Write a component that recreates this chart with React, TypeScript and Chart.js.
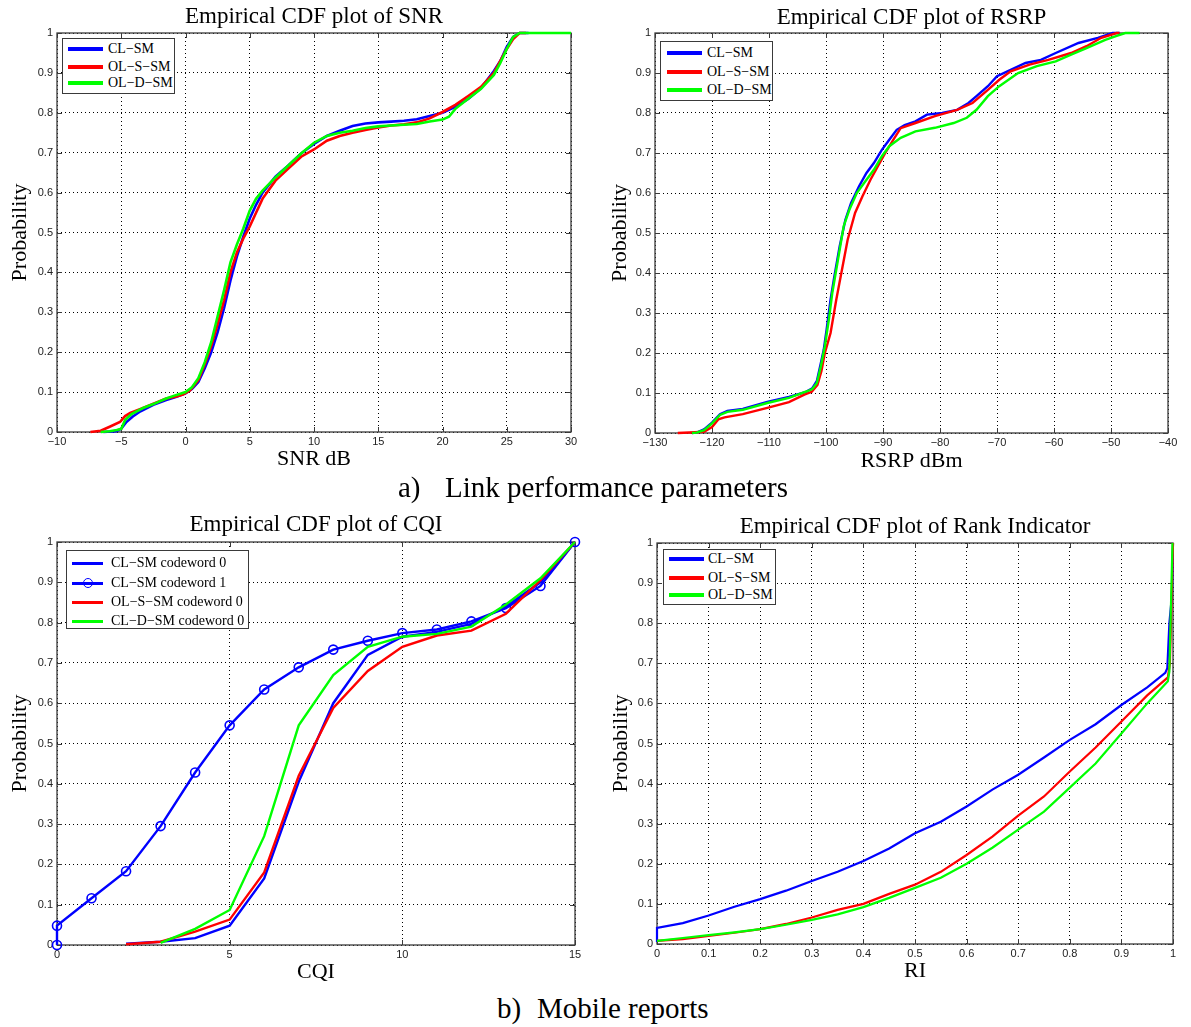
import React, { useEffect, useRef } from 'react';
import { Chart, registerables } from 'chart.js';

Chart.register(...registerables);

// ---------------- DATA ----------------
const seriesLabels = ['CL\u2212SM', 'OL\u2212S\u2212SM', 'OL\u2212D\u2212SM'];
const cqiLabels = ['CL\u2212SM codeword 0', 'CL\u2212SM codeword 1', 'OL\u2212S\u2212SM codeword 0', 'CL\u2212D\u2212SM codeword 0'];

// SNR (dB)
const snrClX = [-6.4, -5.4, -5.0, -4.6, -4.1, -3.5, -2.5, -1.5, -0.7, 0, 0.5, 1, 1.5, 2, 2.5, 3, 3.5, 4, 4.5, 5, 5.5, 6, 7, 8, 9, 10, 11, 12, 13, 14, 15, 16, 17, 18, 19, 20, 21, 22, 23, 24, 24.5, 25, 25.5, 26, 26.7];
const snrClY = [0, 0.002, 0.008, 0.025, 0.039, 0.052, 0.068, 0.08, 0.088, 0.097, 0.108, 0.125, 0.16, 0.2, 0.25, 0.31, 0.38, 0.44, 0.49, 0.535, 0.57, 0.6, 0.64, 0.668, 0.698, 0.722, 0.742, 0.755, 0.767, 0.773, 0.776, 0.778, 0.78, 0.784, 0.792, 0.8, 0.815, 0.835, 0.862, 0.905, 0.93, 0.965, 0.99, 1, 1];
const snrOlsX = [-7.4, -6.6, -5.9, -5.1, -4.7, -4.3, -3.5, -2.5, -1.5, -0.7, -0.2, 0.35, 1, 1.5, 2, 2.5, 3, 3.5, 4, 4.5, 5, 5.5, 6, 7, 8, 9, 10, 11, 12, 13, 14, 15, 16, 17, 18, 19, 20, 21, 22, 23, 24, 24.5, 25, 25.5, 26, 26.5];
const snrOlsY = [0, 0.003, 0.013, 0.025, 0.04, 0.048, 0.058, 0.071, 0.084, 0.089, 0.094, 0.104, 0.13, 0.17, 0.215, 0.27, 0.33, 0.4, 0.45, 0.485, 0.515, 0.55, 0.585, 0.63, 0.66, 0.69, 0.708, 0.73, 0.742, 0.75, 0.757, 0.763, 0.768, 0.771, 0.776, 0.786, 0.802, 0.82, 0.842, 0.865, 0.9, 0.93, 0.96, 0.985, 1, 1];
const snrOldX = [-6.6, -5.9, -5.35, -5.0, -4.7, -4.2, -3.3, -2.5, -1.5, -0.7, 0, 0.5, 1, 1.5, 2, 2.5, 3, 3.5, 4, 4.5, 5, 5.5, 6, 7, 8, 9, 10, 11, 12, 13, 14, 15, 16, 17, 18, 19, 20, 20.5, 21, 22, 23, 24, 24.5, 25, 25.5, 26, 28, 30];
const snrOldY = [0, 0.002, 0.005, 0.008, 0.03, 0.045, 0.06, 0.07, 0.084, 0.093, 0.1, 0.112, 0.135, 0.175, 0.225, 0.29, 0.355, 0.425, 0.47, 0.51, 0.555, 0.585, 0.605, 0.638, 0.668, 0.698, 0.725, 0.742, 0.75, 0.755, 0.762, 0.766, 0.768, 0.77, 0.772, 0.778, 0.783, 0.79, 0.81, 0.835, 0.86, 0.895, 0.925, 0.96, 0.99, 1, 1, 1];

// RSRP (dBm)
const rsrpClX = [-123.5, -122.5, -121.4, -120, -118.6, -117.3, -114.6, -110.3, -106.5, -103.5, -102.4, -101.6, -100.9, -100.4, -99.9, -99.2, -98.55, -97.6, -96.6, -95.6, -94.2, -92.9, -91.6, -90.2, -88.9, -87.6, -86.2, -84.3, -82.3, -79.6, -77, -75, -73.6, -71.6, -70, -67.6, -65, -62.3, -59.7, -55.7, -52.3, -49.7, -48.5];
const rsrpClY = [0, 0.002, 0.009, 0.026, 0.047, 0.055, 0.06, 0.078, 0.09, 0.103, 0.112, 0.13, 0.175, 0.208, 0.258, 0.333, 0.39, 0.467, 0.533, 0.575, 0.617, 0.65, 0.675, 0.708, 0.733, 0.758, 0.77, 0.779, 0.796, 0.8, 0.808, 0.825, 0.842, 0.867, 0.892, 0.908, 0.925, 0.933, 0.95, 0.975, 0.988, 1, 1];
const rsrpOlsX = [-126, -123, -121.4, -120, -118.9, -117.8, -114.6, -110.3, -106.5, -103.8, -102.5, -101.5, -100.8, -100.2, -99.2, -98.2, -97.2, -96.2, -94.9, -93.6, -92.2, -90.9, -89.6, -88.2, -86.9, -84.3, -80.9, -77, -74.3, -71.6, -69.6, -67.6, -64.3, -61, -57, -54.3, -51.7, -49, -48.5];
const rsrpOlsY = [0, 0.002, 0.003, 0.015, 0.034, 0.039, 0.047, 0.063, 0.077, 0.096, 0.103, 0.12, 0.155, 0.2, 0.25, 0.333, 0.408, 0.483, 0.55, 0.592, 0.633, 0.667, 0.7, 0.733, 0.762, 0.775, 0.792, 0.808, 0.825, 0.858, 0.883, 0.904, 0.921, 0.933, 0.95, 0.967, 0.988, 1, 1];
const rsrpOldX = [-123.5, -122.7, -121.4, -120, -118.6, -117.3, -114.6, -110.3, -106.5, -103.2, -102.4, -101.6, -100.9, -100.2, -99.5, -98.9, -97.9, -96.9, -95.9, -94.6, -92.9, -91.6, -90.2, -88.9, -86.9, -84.3, -80.9, -77.6, -75.3, -73.6, -71.6, -69.6, -66.3, -63, -59.7, -57, -54.3, -51, -49, -47.5, -45];
const rsrpOldY = [0, 0.001, 0.007, 0.024, 0.045, 0.053, 0.058, 0.075, 0.088, 0.105, 0.11, 0.125, 0.167, 0.217, 0.283, 0.35, 0.433, 0.517, 0.558, 0.6, 0.633, 0.658, 0.692, 0.717, 0.738, 0.754, 0.763, 0.775, 0.788, 0.808, 0.842, 0.867, 0.9, 0.917, 0.929, 0.946, 0.962, 0.983, 0.993, 1, 1];

// CQI
const cqiCw0X = [2, 3, 4, 5, 6, 7, 8, 9, 10, 11, 12, 13, 14, 15];
const cqiCw0Y = [0.003, 0.008, 0.017, 0.048, 0.165, 0.405, 0.6, 0.72, 0.765, 0.777, 0.797, 0.84, 0.9, 1.0];
const cqiCw1X = [0, 0, 1, 2, 3, 4, 5, 6, 7, 8, 9, 10, 11, 12, 13, 14, 15];
const cqiCw1Y = [0, 0.048, 0.116, 0.183, 0.295, 0.428, 0.545, 0.634, 0.689, 0.733, 0.755, 0.774, 0.783, 0.803, 0.836, 0.891, 1.0];
const cqiOlsX = [2, 3, 4, 5, 6, 7, 8, 9, 10, 11, 12, 13, 14, 15];
const cqiOlsY = [0.002, 0.008, 0.033, 0.063, 0.18, 0.42, 0.588, 0.68, 0.74, 0.768, 0.78, 0.822, 0.905, 1.0];
const cqiCldX = [3, 4, 5, 6, 7, 8, 9, 10, 11, 12, 13, 14, 15];
const cqiCldY = [0.005, 0.04, 0.087, 0.27, 0.545, 0.67, 0.74, 0.765, 0.772, 0.79, 0.845, 0.91, 1.0];

// Rank Indicator
const riClX = [0, 0, 0.05, 0.1, 0.15, 0.2, 0.25, 0.3, 0.35, 0.4, 0.45, 0.5, 0.55, 0.6, 0.65, 0.7, 0.75, 0.8, 0.85, 0.9, 0.95, 0.985, 0.989, 0.993, 0.998, 1];
const riClY = [0.005, 0.04, 0.052, 0.071, 0.093, 0.112, 0.133, 0.157, 0.18, 0.207, 0.238, 0.276, 0.305, 0.343, 0.385, 0.422, 0.465, 0.509, 0.548, 0.596, 0.64, 0.676, 0.688, 0.8, 0.87, 1];
const riOlsX = [0, 0.05, 0.1, 0.15, 0.2, 0.25, 0.3, 0.35, 0.4, 0.45, 0.5, 0.55, 0.6, 0.65, 0.7, 0.75, 0.8, 0.85, 0.9, 0.95, 0.99, 0.994, 1];
const riOlsY = [0.008, 0.012, 0.02, 0.028, 0.037, 0.05, 0.066, 0.085, 0.1, 0.125, 0.148, 0.18, 0.222, 0.268, 0.32, 0.368, 0.43, 0.49, 0.555, 0.62, 0.665, 0.7, 1];
const riOldX = [0, 0.05, 0.1, 0.15, 0.2, 0.25, 0.3, 0.35, 0.4, 0.45, 0.5, 0.55, 0.6, 0.65, 0.7, 0.75, 0.8, 0.85, 0.9, 0.95, 0.99, 0.993, 0.999];
const riOldY = [0.008, 0.015, 0.022, 0.029, 0.037, 0.048, 0.06, 0.074, 0.092, 0.115, 0.14, 0.165, 0.2, 0.24, 0.285, 0.33, 0.39, 0.45, 0.525, 0.6, 0.655, 0.68, 1];

// ---------------- STYLE ----------------
const BLUE = '#0000ff';
const RED = '#ff0000';
const GREEN = '#00ff00';
const SERIF = '"Liberation Serif", "Times New Roman", Times, serif';
const SANS = '"Liberation Sans", Arial, Helvetica, sans-serif';

const pts = (xs: number[], ys: number[]) => xs.map((x, i) => ({ x, y: ys[i] }));

const fmt = (v: number) => {
  const r = Math.round(v * 100) / 100;
  return (r < 0 ? '\u2212' : '') + String(Math.abs(r));
};

const framePlugin = {
  id: 'matlabFrame',
  beforeDatasetsDraw(chart: any) {
    const { ctx, chartArea: a, scales } = chart;
    ctx.save();
    ctx.setLineDash([]);
    ctx.strokeStyle = '#3a3a3a';
    ctx.lineWidth = 1.3;
    ctx.strokeRect(Math.round(a.left), Math.round(a.top), Math.round(a.right) - Math.round(a.left), Math.round(a.bottom) - Math.round(a.top));
    ctx.lineWidth = 1;
    const L = 5;
    ctx.beginPath();
    scales.x.ticks.forEach((t: any) => {
      const px = Math.round(scales.x.getPixelForValue(t.value)) + 0.5;
      ctx.moveTo(px, a.bottom); ctx.lineTo(px, a.bottom - L);
      ctx.moveTo(px, a.top); ctx.lineTo(px, a.top + L);
    });
    scales.y.ticks.forEach((t: any) => {
      const py = Math.round(scales.y.getPixelForValue(t.value)) + 0.5;
      ctx.moveTo(a.left, py); ctx.lineTo(a.left + L, py);
      ctx.moveTo(a.right, py); ctx.lineTo(a.right - L, py);
    });
    ctx.stroke();
    ctx.restore();
  },
};

type Def = {
  title: string; xTitle: string;
  xMin: number; xMax: number; xStep: number;
  datasets: any[];
  titlePad: { top: number; bottom: number };
  yTitlePad: number; xTitlePad: number;
  yW: number; xH: number; padRight: number;
};

function makeConfig(d: Def): any {
  const tickFont = { family: SANS, size: 11 };
  const grid = { color: '#000000', lineWidth: 1, drawTicks: false };
  const border = { display: false, dash: [1, 3] };
  return {
    type: 'line',
    data: { datasets: d.datasets },
    options: {
      responsive: false,
      animation: false,
      devicePixelRatio: 1,
      layout: { padding: { left: 0, top: 0, bottom: 0, right: d.padRight } },
      plugins: {
        legend: { display: false },
        tooltip: { enabled: false },
        title: {
          display: true, text: d.title, fullSize: false, color: '#000',
          font: { family: SERIF, size: 23, weight: 'normal' },
          padding: d.titlePad,
        },
      },
      scales: {
        x: {
          type: 'linear', min: d.xMin, max: d.xMax,
          ticks: { stepSize: d.xStep, padding: 3, color: '#222', font: tickFont, maxRotation: 0, autoSkip: false, callback: (v: number) => fmt(v) },
          grid, border,
          title: { display: true, text: d.xTitle, color: '#000', font: { family: SERIF, size: 22 }, padding: { top: 0, bottom: d.xTitlePad } },
          afterFit: (s: any) => { s.height = d.xH; },
        },
        y: {
          type: 'linear', min: 0, max: 1,
          ticks: { stepSize: 0.1, padding: 4, color: '#222', font: tickFont, autoSkip: false, callback: (v: number) => fmt(v) },
          grid, border,
          title: { display: true, text: 'Probability', color: '#000', font: { family: SERIF, size: 22 }, padding: { top: d.yTitlePad, bottom: 0 } },
          afterFit: (s: any) => { s.width = d.yW; },
        },
      },
    },
    plugins: [framePlugin],
  };
}

const line = (label: string, data: any[], color: string, width: number, order: number, extra: any = {}) => ({
  label, data, borderColor: color, backgroundColor: color, borderWidth: width,
  pointRadius: 0, tension: 0, fill: false, order, clip: 6, ...extra,
});

function ChartBox({ left, top, width, height, def }: { left: number; top: number; width: number; height: number; def: Def }) {
  const ref = useRef<HTMLCanvasElement>(null);
  useEffect(() => {
    const chart = new Chart(ref.current as HTMLCanvasElement, makeConfig(def));
    return () => chart.destroy();
  }, []);
  return <canvas ref={ref} width={width} height={height} style={{ position: 'absolute', left, top, width, height }} />;
}

type LegItem = { label: string; color: string; marker?: boolean };
function Legend({ left, top, width, height, items, rows, lineLeft, lineW, textLeft, thick }: {
  left: number; top: number; width: number; height: number; items: LegItem[]; rows: number[];
  lineLeft: number; lineW: number; textLeft: number; thick: number;
}) {
  return (
    <div style={{ position: 'absolute', left, top, width, height, background: '#fff', border: '1.3px solid #3a3a3a', boxSizing: 'border-box' }}>
      {items.map((it, i) => (
        <React.Fragment key={i}>
          <div style={{ position: 'absolute', left: lineLeft - 1, top: rows[i] - thick / 2 - 1, width: lineW, height: thick, background: it.color }} />
          {it.marker && (
            <div style={{ position: 'absolute', left: lineLeft - 1 + lineW / 2 - 5, top: rows[i] - 6, width: 10, height: 10, borderRadius: '50%', border: `1.5px solid ${it.color}`, boxSizing: 'border-box' }} />
          )}
          <div style={{ position: 'absolute', left: textLeft - 1, top: rows[i] - 10, height: 18, lineHeight: '18px', fontFamily: SERIF, fontSize: 14, color: '#000', whiteSpace: 'nowrap' }}>{it.label}</div>
        </React.Fragment>
      ))}
    </div>
  );
}

const snrDef: Def = {
  title: 'Empirical CDF plot of SNR', xTitle: 'SNR dB', xMin: -10, xMax: 30, xStep: 5,
  datasets: [
    line(seriesLabels[0], pts(snrClX, snrClY), BLUE, 2.6, 3),
    line(seriesLabels[1], pts(snrOlsX, snrOlsY), RED, 2.6, 2),
    line(seriesLabels[2], pts(snrOldX, snrOldY), GREEN, 2.6, 1),
  ],
  titlePad: { top: 3, bottom: 2.4 }, yTitlePad: 6.8, xTitlePad: 0, yW: 57, xH: 40, padRight: 20,
};

const rsrpDef: Def = {
  title: 'Empirical CDF plot of RSRP', xTitle: 'RSRP dBm', xMin: -130, xMax: -40, xStep: 10,
  datasets: [
    line(seriesLabels[0], pts(rsrpClX, rsrpClY), BLUE, 2.4, 3),
    line(seriesLabels[1], pts(rsrpOlsX, rsrpOlsY), RED, 2.4, 2),
    line(seriesLabels[2], pts(rsrpOldX, rsrpOldY), GREEN, 2.4, 1),
  ],
  titlePad: { top: 4.3, bottom: 1.1 }, yTitlePad: 8.8, xTitlePad: 0, yW: 57, xH: 41, padRight: 20,
};

const cqiDef: Def = {
  title: 'Empirical CDF plot of CQI', xTitle: 'CQI', xMin: 0, xMax: 15, xStep: 5,
  datasets: [
    line(cqiLabels[0], pts(cqiCw0X, cqiCw0Y), BLUE, 2.4, 4),
    line(cqiLabels[1], pts(cqiCw1X, cqiCw1Y), BLUE, 2.4, 3, {
      pointRadius: 4.5, pointStyle: 'circle', pointBorderColor: BLUE, pointBackgroundColor: 'rgba(0,0,0,0)', pointBorderWidth: 1.6,
    }),
    line(cqiLabels[2], pts(cqiOlsX, cqiOlsY), RED, 2.4, 2),
    line(cqiLabels[3], pts(cqiCldX, cqiCldY), GREEN, 2.4, 1),
  ],
  titlePad: { top: 6.2, bottom: 3.2 }, yTitlePad: 7.3, xTitlePad: 0, yW: 57, xH: 40, padRight: 20,
};

const riDef: Def = {
  title: 'Empirical CDF plot of Rank Indicator', xTitle: 'RI', xMin: 0, xMax: 1, xStep: 0.1,
  datasets: [
    line(seriesLabels[0], pts(riClX, riClY), BLUE, 2.2, 3),
    line(seriesLabels[1], pts(riOlsX, riOlsY), RED, 2.2, 2),
    line(seriesLabels[2], pts(riOldX, riOldY), GREEN, 2.2, 1),
  ],
  titlePad: { top: 8.2, bottom: 2.2 }, yTitlePad: 8.3, xTitlePad: 0, yW: 57, xH: 40, padRight: 15,
};

const triItems: LegItem[] = [
  { label: seriesLabels[0], color: BLUE },
  { label: seriesLabels[1], color: RED },
  { label: seriesLabels[2], color: GREEN },
];
const cqiItems: LegItem[] = [
  { label: cqiLabels[0], color: BLUE },
  { label: cqiLabels[1], color: BLUE, marker: true },
  { label: cqiLabels[2], color: RED },
  { label: cqiLabels[3], color: GREEN },
];

const captionStyle: React.CSSProperties = {
  position: 'absolute', fontFamily: SERIF, fontSize: 29, lineHeight: '32px', color: '#000', whiteSpace: 'nowrap',
};

export default function App() {
  return (
    <div style={{ position: 'absolute', left: 0, top: 0, width: 1191, height: 1027, background: '#fff', overflow: 'hidden' }}>
      <ChartBox left={0} top={0} width={591} height={472} def={snrDef} />
      <ChartBox left={598} top={0} width={590} height={474} def={rsrpDef} />
      <ChartBox left={0} top={505} width={595} height={480} def={cqiDef} />
      <ChartBox left={600} top={505} width={588} height={479} def={riDef} />

      <Legend left={62} top={38} width={113} height={56} items={triItems} rows={[11, 29, 45]} lineLeft={6} lineW={35} textLeft={46} thick={4} />
      <Legend left={660} top={41} width={113} height={60} items={triItems} rows={[12, 31, 49]} lineLeft={7} lineW={35} textLeft={47} thick={4} />
      <Legend left={66} top={550} width={183} height={79} items={cqiItems} rows={[13, 33, 52, 71]} lineLeft={6} lineW={31} textLeft={45} thick={3} />
      <Legend left={663} top={549} width={113} height={56} items={triItems} rows={[10, 29, 46]} lineLeft={6} lineW={35} textLeft={45} thick={4} />

      <div style={{ ...captionStyle, left: 398, top: 471 }}>a)</div>
      <div style={{ ...captionStyle, left: 445, top: 471 }}>Link performance parameters</div>
      <div style={{ ...captionStyle, left: 497, top: 992 }}>b)</div>
      <div style={{ ...captionStyle, left: 537, top: 992 }}>Mobile reports</div>
    </div>
  );
}
